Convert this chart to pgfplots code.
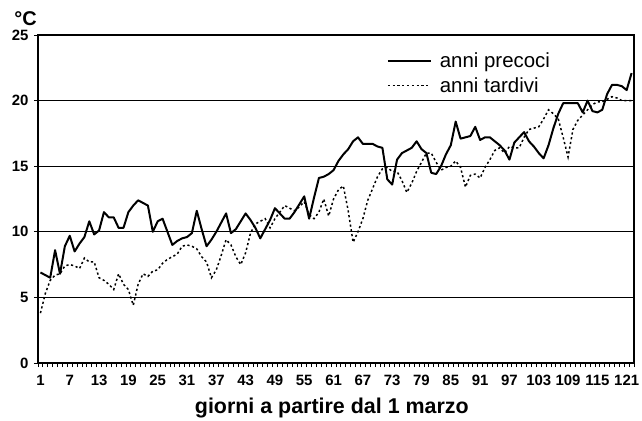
\documentclass[border=0pt]{standalone}
\usepackage{fontspec}
\setmainfont{Liberation Sans}
\usepackage{pgfplots}
\pgfplotsset{compat=1.18}
\usepackage{pgfplotstable}

\pgfplotstableread{
d p t
1 6.9 3.8
2 6.7 5.3
3 6.5 6.3
4 8.6 6.7
5 6.8 6.8
6 8.9 7.4
7 9.7 7.5
8 8.5 7.4
9 9.1 7.2
10 9.6 8.0
11 10.8 7.7
12 9.8 7.7
13 10.1 6.5
14 11.5 6.3
15 11.1 6.0
16 11.1 5.6
17 10.3 6.8
18 10.3 6.0
19 11.5 5.6
20 12.0 4.4
21 12.4 6.0
22 12.2 6.8
23 12.0 6.6
24 10.0 7.0
25 10.8 7.1
26 11.0 7.6
27 10.0 7.9
28 9.0 8.1
29 9.3 8.3
30 9.5 8.9
31 9.6 9.0
32 9.9 8.9
33 11.6 8.7
34 10.2 8.1
35 8.9 7.7
36 9.4 6.5
37 10.0 7.1
38 10.7 8.2
39 11.4 9.4
40 9.9 9.0
41 10.2 8.1
42 10.8 7.5
43 11.4 8.4
44 10.9 9.9
45 10.3 10.6
46 9.5 10.8
47 10.2 11.0
48 10.9 10.3
49 11.8 11.0
50 11.4 11.5
51 11.0 12.0
52 11.0 11.8
53 11.5 11.6
54 12.1 11.9
55 12.7 12.3
56 11.0 11.3
57 12.6 11.0
58 14.1 11.5
59 14.2 12.5
60 14.4 11.2
61 14.7 12.5
62 15.4 13.2
63 15.9 13.5
64 16.3 11.6
65 16.9 9.2
66 17.2 10.0
67 16.7 11.0
68 16.7 12.4
69 16.7 13.3
70 16.5 14.2
71 16.4 14.8
72 14.0 14.9
73 13.6 14.6
74 15.5 14.6
75 16.0 13.9
76 16.2 13.0
77 16.4 13.7
78 16.9 14.6
79 16.3 15.3
80 16.0 16.0
81 14.5 16.0
82 14.4 15.3
83 15.0 14.7
84 15.9 14.9
85 16.6 15.0
86 18.4 15.4
87 17.1 14.9
88 17.2 13.4
89 17.3 14.3
90 18.0 14.4
91 17.0 14.1
92 17.2 14.9
93 17.2 15.5
94 16.9 16.2
95 16.6 16.4
96 16.2 16.0
97 15.5 16.5
98 16.8 16.4
99 17.2 16.4
100 17.6 17.2
101 16.9 17.8
102 16.5 17.9
103 16.0 18.0
104 15.6 18.6
105 16.6 19.3
106 17.9 19.0
107 19.0 18.6
108 19.8 17.2
109 19.8 15.7
110 19.8 17.8
111 19.8 18.5
112 19.1 18.9
113 20.0 19.3
114 19.2 19.7
115 19.1 19.9
116 19.3 19.9
117 20.5 20.1
118 21.2 20.3
119 21.2 20.2
120 21.1 20.0
121 20.8 20.0
122 22.1 20.0
}\data

\begin{document}
\begin{tikzpicture}
\begin{axis}[
  at={(0,0)}, anchor=south west,
  scale only axis, width=596bp, height=328bp,
  xmin=0.5, xmax=122.5, ymin=0, ymax=25,
  xtick={1,7,...,121},
  minor xtick={0.5,1.5,...,122.5},
  ytick={0,5,...,25},
  tick pos=left, tick align=outside,
  ymajorgrids,
  major grid style={black, line width=1pt},
  axis line style={black, line width=1.3pt},
  tick style={black, line width=0.8pt},
  major tick length=4bp, minor tick length=4bp,
  major x tick style={draw=none},
  /pgf/number format/assume math mode=true,
  ticklabel style={font=\bfseries\fontsize{15}{15}\selectfont},
  xticklabel style={yshift=-5bp},
  yticklabel style={xshift=-2bp},
  xlabel={giorni a partire dal 1 marzo},
  xlabel style={at={(axis description cs:0.493,-0.137)}, anchor=center, font=\bfseries\fontsize{21.5}{21.5}\selectfont},
  legend style={at={(axis description cs:0.585,0.952)}, anchor=north west, draw=none, fill=none, inner sep=0pt,
    font=\fontsize{20.5}{24}\selectfont, row sep=4bp, legend cell align=left},
  legend image code/.code={\draw[#1] (0bp,0bp) -- (43bp,0bp);},
]
\addplot[black, line width=2pt, line join=round] table[x=d, y=p] {\data};
\addlegendentry{\hspace{6bp}anni precoci}
\addplot[black, line width=1.5pt, dash pattern=on 2.2pt off 2.6pt] table[x=d, y=t] {\data};
\addlegendentry{\hspace{6bp}anni tardivi}
\end{axis}
\node[font=\bfseries\fontsize{20}{20}\selectfont] at (-12.5bp,344.5bp) {°C};
\pgfresetboundingbox
\path[use as bounding box] (-38bp,-58bp) rectangle (604bp,363bp);
\end{tikzpicture}
\end{document}
